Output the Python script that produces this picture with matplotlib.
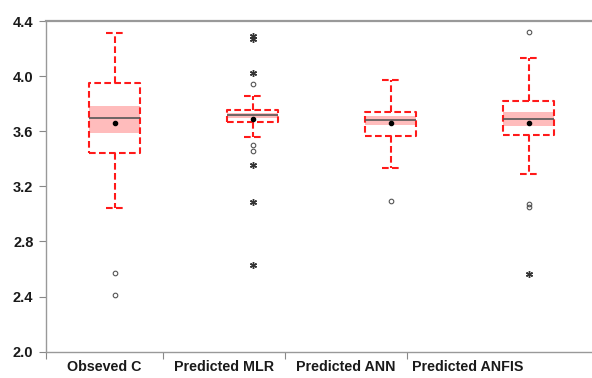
import numpy as np
import matplotlib.pyplot as plt

plt.rcParams['font.family'] = ['Liberation Sans', 'DejaVu Sans']

labels = ["Obseved C", "Predicted MLR", "Predicted ANN", "Predicted ANFIS"]
q1 = [3.443, 3.665, 3.564, 3.576]
q3 = [3.947, 3.758, 3.738, 3.818]
med = [3.697, 3.716, 3.685, 3.690]
mean = [3.658, 3.692, 3.661, 3.658]
ci_lo = [3.588, 3.700, 3.649, 3.641]
ci_hi = [3.787, 3.732, 3.710, 3.741]
whis_lo = [3.043, 3.559, 3.334, 3.292]
whis_hi = [4.316, 3.855, 3.971, 4.134]
near_out = [[2.570, 2.412], [3.945, 3.503, 3.460], [3.091], [4.320, 3.072, 3.047]]
far_out = [[], [4.292, 4.272, 4.025, 3.358, 3.090, 2.630], [], [2.565]]

positions = [0.5, 1.5, 2.5, 3.5]
box_w = 0.37
sep_ticks = [0.0, 0.848, 1.732, 2.616]
label_pos = [0.424, 1.29, 2.174, 3.058]

fig = plt.figure(figsize=(5.92, 3.78), dpi=100)
ax = fig.add_axes([0.0777, 0.0696, 0.9223, 0.8746])

stats = []
for i in range(4):
    stats.append(dict(med=med[i], q1=q1[i], q3=q3[i], whislo=whis_lo[i],
                      whishi=whis_hi[i], fliers=[], mean=mean[i]))

red = '#ff1a1a'
dash = (0, (3.2, 1.6))
# shaded median band
for i, x in enumerate(positions):
    ax.fill_between([x - box_w / 2, x + box_w / 2], ci_lo[i], ci_hi[i],
                    color='#ffbcbc', lw=0, zorder=1)

ax.bxp(stats, positions=positions, widths=box_w, capwidths=0.13,
       showmeans=True, showfliers=False,
       boxprops=dict(color=red, lw=1.5, linestyle=dash),
       whiskerprops=dict(color=red, lw=1.5, linestyle=dash),
       capprops=dict(color=red, lw=1.5, linestyle=dash),
       medianprops=dict(color='#555555', lw=1.2),
       meanprops=dict(marker='o', markerfacecolor='black',
                      markeredgecolor='black', markersize=3),
       manage_ticks=False, zorder=3)

for i, x in enumerate(positions):
    if near_out[i]:
        ax.plot([x] * len(near_out[i]), near_out[i], 'o', mfc='none',
                mec='#555555', ms=3.3, mew=0.8, zorder=4)
    if far_out[i]:
        ax.plot([x] * len(far_out[i]), far_out[i], marker=(6, 2, 0),
                ls='none', color='#333333', ms=5, mew=1.0, zorder=4)

ax.set_xlim(0, 3.96)
ax.set_ylim(2.0, 4.4)
ax.set_yticks(np.arange(2.0, 4.41, 0.4))
ax.set_yticklabels([f"{v:.1f}" for v in np.arange(2.0, 4.41, 0.4)],
                   fontsize=10.5, fontweight='bold', color='#1a1a1a')
ax.set_xticks(sep_ticks)
ax.set_xticklabels([])
ax.set_xticks(label_pos, minor=True)
ax.set_xticklabels(labels, minor=True, fontsize=10.3, fontweight='bold',
                   color='#1a1a1a')
ax.tick_params(axis='x', which='minor', length=0, pad=6)
ax.tick_params(axis='x', which='major', length=5, color='#888888')
ax.tick_params(axis='y', length=5, color='#888888', pad=4)

for s in ['left', 'bottom', 'top']:
    ax.spines[s].set_color('#999999')
    ax.spines[s].set_linewidth(1.0)
ax.spines['top'].set_linewidth(1.6)
ax.spines['right'].set_visible(False)

fig.savefig('out.png', dpi=100)
